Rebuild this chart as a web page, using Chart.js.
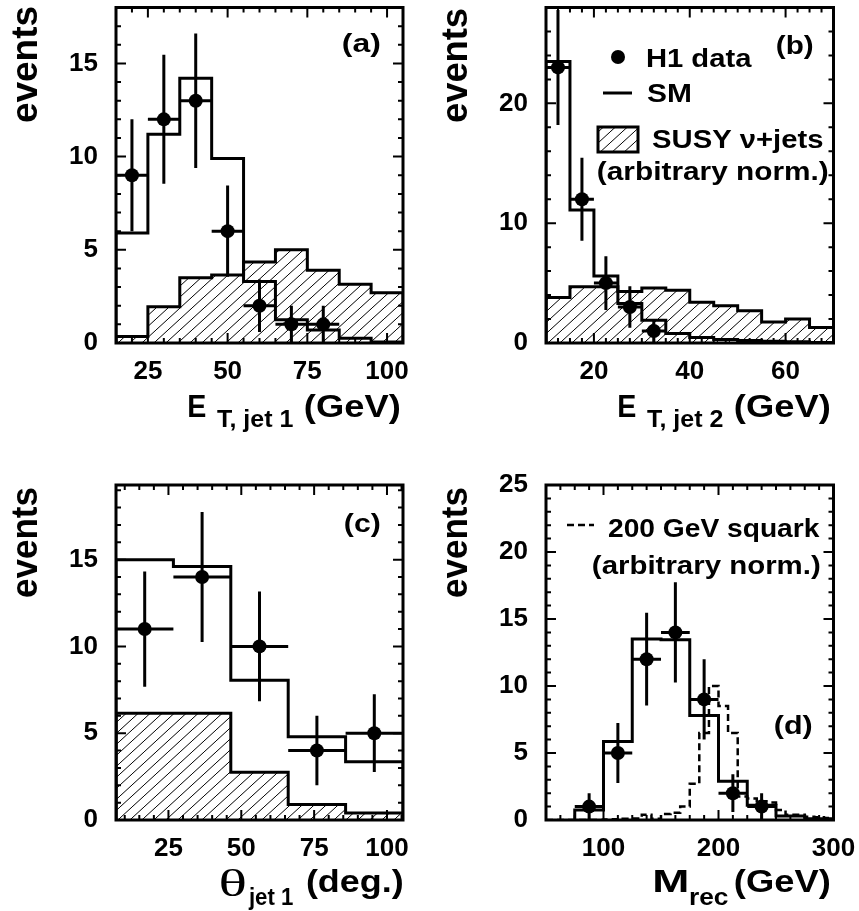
<!DOCTYPE html>
<html>
<head>
<meta charset="utf-8">
<script src="https://cdn.jsdelivr.net/npm/chart.js@4.4.1/dist/chart.umd.min.js"></script>
<style>
  body { margin: 0; background: #fff; width: 859px; height: 911px; position: relative; overflow: hidden; }
  canvas { position: absolute; }
</style>
</head>
<body>
<canvas id="ca" width="430" height="455" style="left:0;top:0"></canvas>
<canvas id="cb" width="429" height="455" style="left:430px;top:0"></canvas>
<canvas id="cc" width="430" height="456" style="left:0;top:455px"></canvas>
<canvas id="cd" width="429" height="456" style="left:430px;top:455px"></canvas>
<script>
// (a) E_T of jet 1
const aEdges = [15, 25, 35, 45, 55, 65, 75, 85, 95, 105];
const aSM = [5.9, 11.2, 14.2, 9.9, 3.3, 1.25, 0.7, 0.25, 0.05];
const aSUSY = [0.35, 1.95, 3.5, 3.65, 4.35, 5.0, 3.9, 3.15, 2.7];
const aX = [20, 30, 40, 50, 60, 70, 80];
const aY = [9, 12, 13, 6, 2, 1, 1];
const aErr = [3, 3.46, 3.61, 2.45, 1.41, 1, 1];
const aXTicks = [25, 50, 75, 100];
const aYTicks = [0, 5, 10, 15];

// (b) E_T of jet 2
const bEdges = [10, 15, 20, 25, 30, 35, 40, 45, 50, 55, 60, 65, 70];
const bSM = [23.5, 11.1, 5.6, 3.3, 1.9, 0.8, 0.45, 0.3, 0.2, 0.15, 0.1, 0.05];
const bSUSY = [3.8, 4.7, 4.7, 4.3, 4.6, 4.4, 3.4, 3.1, 2.7, 1.75, 2.0, 1.3];
const bX = [12.5, 17.5, 22.5, 27.5, 32.5];
const bY = [23, 12, 5, 3, 1];
const bErr = [4.8, 3.46, 2.24, 1.73, 1];
const bXTicks = [20, 40, 60];
const bYTicks = [0, 10, 20];

// (c) theta of jet 1
const cEdges = [7, 26.7, 46.4, 66.1, 85.8, 105.5];
const cSM = [15.0, 14.6, 8.05, 4.8, 3.35];
const cSUSY = [6.15, 6.15, 2.75, 0.9, 0.4];
const cX = [16.85, 36.55, 56.25, 75.95, 95.65];
const cY = [11, 14, 10, 4, 5];
const cErr = [3.32, 3.74, 3.16, 2, 2.24];
const cXTicks = [25, 50, 75, 100];
const cYTicks = [0, 5, 10, 15];

// (d) reconstructed mass
const dEdges = [75, 100, 125, 150, 175, 200, 225, 250, 275, 300];
const dSM = [0.75, 5.85, 13.5, 13.45, 7.8, 2.9, 1.1, 0.3, 0.1];
const dX = [87.5, 112.5, 137.5, 162.5, 187.5, 212.5, 237.5];
const dY = [1, 5, 12, 14, 9, 2, 1];
const dErr = [1, 2.24, 3.46, 3.74, 3, 1.41, 1];
const sqEdges = [50, 58.3, 66.7, 75, 83.3, 91.7, 100, 108.3, 116.7, 125, 133.3, 141.7, 150, 158.3, 166.7,
                 175, 183.3, 191.7, 200, 208.3, 216.7, 225, 233.3, 241.7, 250, 258.3, 266.7, 275, 283.3, 291.7, 300];
const sqVals = [0, 0, 0, 0, 0, 0, 0.03, 0.05, 0.1, 0.12, 0.4, 0.1, 0.45, 0.55, 1.0,
                2.7, 6.5, 10.0, 8.5, 6.5, 1.75, 1.6, 1.4, 1.3, 0.75, 0.4, 0.4, 0.25, 0.2, 0.15];
const dXTicks = [100, 200, 300];
const dYTicks = [0, 5, 10, 15, 20, 25];

const FONT = '"Liberation Sans", Arial, Helvetica, sans-serif';
const SERIF = '"Liberation Serif", "DejaVu Serif", serif';

function hatch() {
  const c = document.createElement('canvas');
  c.width = 12; c.height = 11;
  const g = c.getContext('2d');
  g.strokeStyle = '#000';
  g.lineWidth = 1;
  [-12, 0, 12].forEach(dx => {
    g.beginPath(); g.moveTo(dx, 11); g.lineTo(dx + 12, 0); g.stroke();
  });
  return g.createPattern(c, 'repeat');
}
const HATCH = hatch();

// step outline from bin edges + contents
function steps(edges, vals) {
  const pts = [{x: edges[0], y: 0}];
  vals.forEach((v, i) => pts.push({x: edges[i], y: v}));
  pts.push({x: edges[edges.length - 1], y: vals[vals.length - 1]});
  pts.push({x: edges[edges.length - 1], y: 0});
  return pts;
}

// draw text with its ink squeezed/stretched to span x0..x1
function fitText(ctx, s, x0, x1, base, font) {
  ctx.save();
  ctx.font = font;
  const m = ctx.measureText(s);
  const w = m.actualBoundingBoxLeft + m.actualBoundingBoxRight;
  const k = (x1 - x0) / w;
  ctx.translate(x0, base);
  ctx.scale(k, 1);
  ctx.textAlign = 'left';
  ctx.textBaseline = 'alphabetic';
  ctx.fillStyle = '#000';
  ctx.fillText(s, m.actualBoundingBoxLeft, 0);
  ctx.restore();
}

function vText(ctx, s, xBase, yBottom, yTop, font) {
  ctx.save();
  ctx.translate(xBase, yBottom);
  ctx.rotate(-Math.PI / 2);
  fitText(ctx, s, 0, yBottom - yTop, 0, font);
  ctx.restore();
}

function histSet(edges, vals, filled, dash) {
  return {
    type: 'line', data: steps(edges, vals), stepped: 'before',
    borderColor: '#000', borderWidth: dash ? 2.5 : 3, borderDash: dash || [],
    pointRadius: 0, fill: filled ? 'origin' : false,
    backgroundColor: filled ? HATCH : 'transparent'
  };
}

function dataSet(xs, ys) {
  return {
    type: 'line', data: xs.map((x, i) => ({x: x, y: ys[i]})), showLine: false,
    pointRadius: 7, pointBackgroundColor: '#000', pointBorderWidth: 0
  };
}

function decor(o) {
  return {
    id: 'decor',
    afterDatasetsDraw(chart) {
      const ctx = chart.ctx, a = chart.chartArea, sx = chart.scales.x, sy = chart.scales.y;
      ctx.save();
      ctx.strokeStyle = '#000';
      ctx.lineCap = 'butt';
      // error bars
      ctx.lineWidth = 3;
      o.px.forEach((x, i) => {
        const y = o.py[i], e = o.pe[i];
        let k = 0;
        while (k < o.edges.length - 2 && o.edges[k + 1] <= x) k++;
        ctx.beginPath();
        ctx.moveTo(sx.getPixelForValue(x), sy.getPixelForValue(Math.max(0, y - e)));
        ctx.lineTo(sx.getPixelForValue(x), sy.getPixelForValue(y + e));
        ctx.moveTo(sx.getPixelForValue(o.edges[k]), sy.getPixelForValue(y));
        ctx.lineTo(sx.getPixelForValue(o.edges[k + 1]), sy.getPixelForValue(y));
        ctx.stroke();
      });
      // ticks inside the frame
      ctx.lineWidth = 2;
      ctx.beginPath();
      for (let v = Math.ceil(sx.min / o.xMinor) * o.xMinor; v <= sx.max + 1e-6; v += o.xMinor) {
        const major = o.xTicks.some(t => Math.abs(t - v) < 1e-6);
        const L = major ? 10 : 5, px = sx.getPixelForValue(v);
        ctx.moveTo(px, a.bottom); ctx.lineTo(px, a.bottom - L);
        ctx.moveTo(px, a.top); ctx.lineTo(px, a.top + L);
      }
      for (let v = 0; v <= sy.max + 1e-6; v += o.yMinor) {
        const major = o.yTicks.some(t => Math.abs(t - v) < 1e-6);
        const L = major ? 10 : 5, py = sy.getPixelForValue(v);
        ctx.moveTo(a.left, py); ctx.lineTo(a.left + L, py);
        ctx.moveTo(a.right, py); ctx.lineTo(a.right - L, py);
      }
      ctx.stroke();
      // frame
      ctx.lineWidth = 3;
      ctx.strokeRect(a.left, a.top, a.right - a.left, a.bottom - a.top);
      o.text(ctx);
      ctx.restore();
    }
  };
}

function panel(o) {
  const canvas = document.getElementById(o.id);
  const W = canvas.width, H = canvas.height, ar = o.area;
  const tickFont = {family: FONT, size: 26, weight: 'bold'};
  return new Chart(canvas, {
    type: 'line',
    data: {datasets: o.datasets},
    options: {
      responsive: false, animation: false, events: [], devicePixelRatio: 1,
      layout: {padding: {left: 0, top: ar[1], right: W - ar[2], bottom: 0}},
      plugins: {legend: {display: false}, tooltip: {enabled: false}},
      scales: {
        x: {
          type: 'linear', min: o.xmin, max: o.xmax,
          grid: {display: false, drawTicks: false}, border: {display: false},
          ticks: {font: tickFont, color: '#000', padding: 13, maxRotation: 0, autoSkip: false},
          afterBuildTicks: s => { s.ticks = o.xTicks.map(v => ({value: v})); },
          afterFit: s => { s.height = H - ar[3]; s.paddingLeft = 0; s.paddingRight = 0; }
        },
        y: {
          type: 'linear', min: 0, max: o.ymax,
          grid: {display: false, drawTicks: false}, border: {display: false},
          ticks: {font: tickFont, color: '#000', padding: 18, autoSkip: false},
          afterBuildTicks: s => { s.ticks = o.yTicks.map(v => ({value: v})); },
          afterFit: s => { s.width = ar[0]; s.paddingTop = 0; s.paddingBottom = 0; }
        }
      }
    },
    plugins: [decor(o)]
  });
}

const B32 = 'bold 32px ' + FONT, B24 = 'bold 24px ' + FONT, B26 = 'bold 26px ' + FONT;

panel({
  id: 'ca', area: [116, 7.5, 403, 343], xmin: 15, xmax: 105, ymax: 18, xMinor: 5, yMinor: 1,
  xTicks: aXTicks, yTicks: aYTicks, edges: aEdges, px: aX, py: aY, pe: aErr,
  datasets: [dataSet(aX, aY), histSet(aEdges, aSM, false), histSet(aEdges, aSUSY, true)],
  text(ctx) {
    vText(ctx, 'events', 37, 122, 7, 'bold 36px ' + FONT);
    fitText(ctx, 'E', 189, 206, 417, B32);
    fitText(ctx, 'T, jet 1', 217, 293, 427, B24);
    fitText(ctx, '(GeV)', 305, 400, 417, B32);
    fitText(ctx, '(a)', 343, 380, 52, B26);
  }
});

panel({
  id: 'cb', area: [116, 7.5, 403.5, 343], xmin: 10, xmax: 70, ymax: 28, xMinor: 2.5, yMinor: 2,
  xTicks: bXTicks, yTicks: bYTicks, edges: bEdges, px: bX, py: bY, pe: bErr,
  datasets: [dataSet(bX, bY), histSet(bEdges, bSM, false), histSet(bEdges, bSUSY, true)],
  text(ctx) {
    vText(ctx, 'events', 37, 122, 9, 'bold 36px ' + FONT);
    fitText(ctx, 'E', 189, 206, 417, B32);
    fitText(ctx, 'T, jet 2', 217, 293, 427, B24);
    fitText(ctx, '(GeV)', 305, 400, 417, B32);
    fitText(ctx, '(b)', 347, 383, 54, B26);
    // legend
    ctx.fillStyle = '#000';
    ctx.beginPath(); ctx.arc(188, 57, 7, 0, Math.PI * 2); ctx.fill();
    fitText(ctx, 'H1 data', 217, 322, 67, B26);
    ctx.lineWidth = 3;
    ctx.beginPath(); ctx.moveTo(173, 93); ctx.lineTo(202, 93); ctx.stroke();
    fitText(ctx, 'SM', 217, 260, 102, B26);
    ctx.fillStyle = HATCH; ctx.fillRect(168, 127, 40, 25);
    ctx.strokeRect(168, 127, 40, 25);
    fitText(ctx, 'SUSY \u03bd+jets', 222, 393, 148, B26);
    fitText(ctx, '(arbitrary norm.)', 168, 398, 180, B26);
  }
});

panel({
  id: 'cc', area: [116, 30, 403, 365], xmin: 7, xmax: 105.5, ymax: 19.3, xMinor: 5, yMinor: 1,
  xTicks: cXTicks, yTicks: cYTicks, edges: cEdges, px: cX, py: cY, pe: cErr,
  datasets: [dataSet(cX, cY), histSet(cEdges, cSM, false), histSet(cEdges, cSUSY, true)],
  text(ctx) {
    vText(ctx, 'events', 37, 142, 33, 'bold 36px ' + FONT);
    fitText(ctx, '\u03b8', 220, 245, 441, '38px ' + SERIF);
    fitText(ctx, 'jet 1', 248, 293, 450, B24);
    fitText(ctx, '(deg.)', 307, 403, 437, B32);
    fitText(ctx, '(c)', 345, 380, 77, B26);
  }
});

panel({
  id: 'cd', area: [116, 30, 403.5, 365], xmin: 50, xmax: 300, ymax: 25, xMinor: 12.5, yMinor: 1,
  xTicks: dXTicks, yTicks: dYTicks, edges: dEdges, px: dX, py: dY, pe: dErr,
  datasets: [dataSet(dX, dY), histSet(dEdges, dSM, false), histSet(sqEdges, sqVals, false, [7, 4])],
  text(ctx) {
    vText(ctx, 'events', 37, 142, 33, 'bold 36px ' + FONT);
    fitText(ctx, 'M', 225, 257, 437, B32);
    fitText(ctx, 'rec', 260, 298, 450, B24);
    fitText(ctx, '(GeV)', 305, 400, 437, B32);
    fitText(ctx, '(d)', 345, 382, 279, B26);
    ctx.lineWidth = 2.5;
    ctx.setLineDash([7, 4]);
    ctx.beginPath(); ctx.moveTo(137, 70); ctx.lineTo(164, 70); ctx.stroke();
    ctx.setLineDash([]);
    fitText(ctx, '200 GeV squark', 178, 390, 82, B26);
    fitText(ctx, '(arbitrary norm.)', 163, 390, 119, B26);
  }
});
</script>
</body>
</html>
